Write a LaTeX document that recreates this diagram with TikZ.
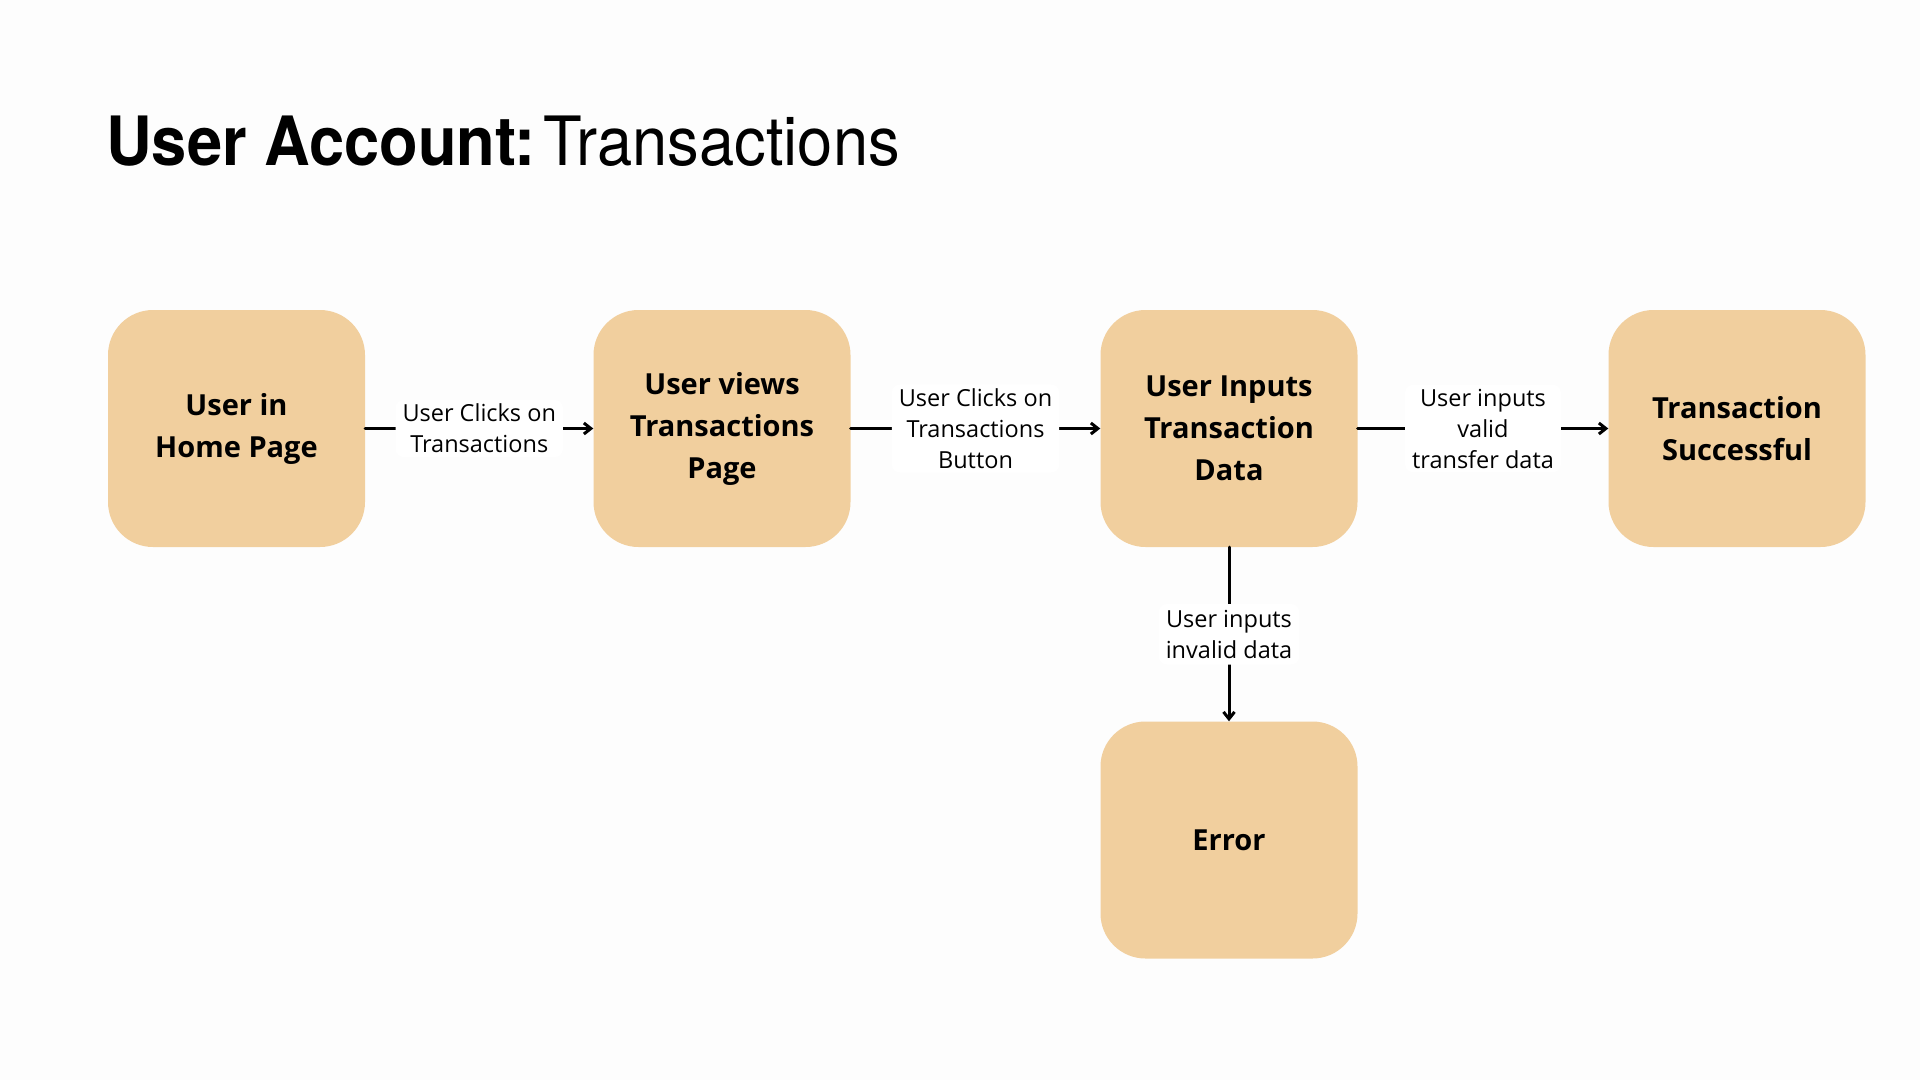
\documentclass[tikz,border=0pt]{standalone}
\usepackage{fontspec}
\setmainfont{Open Sans}
\newfontfamily\titlefont[FakeStretch=0.93]{TeX Gyre Heros}
\usetikzlibrary{arrows.meta}
\definecolor{boxtan}{HTML}{F1CF9E}
\definecolor{pagebg}{HTML}{FDFDFD}

\begin{document}
\begin{tikzpicture}[x=1pt, y=-1pt, line cap=round, line join=round, >={Straight Barb[length=7pt, width=11pt]}]
	\tikzset{
		buoc/.style={fill=boxtan, rounded corners=45pt, minimum width=257pt, minimum height=237pt, inner sep=0pt, align=center, font=\fontsize{29}{42}\selectfont\bfseries},
		nhan/.style={fill=white, rounded corners=8pt, inner xsep=7pt, inner ysep=4pt, align=center, font=\fontsize{23.5}{31}\selectfont},
		muiten/.style={->, line width=3pt}
	}
	% NỀN VÀ KHUNG
	\fill[pagebg] (0,0) rectangle (1920,1080);
	\useasboundingbox (0,0) rectangle (1920,1080);
	
	% TIÊU ĐỀ
	\node[anchor=base west, inner sep=0pt, font=\titlefont\fontsize{68}{80}\selectfont] (tieude) at (106,165) {\textbf{User Account:}\hspace{8pt}Transactions};
	
	% CÁC BƯỚC
	\node[buoc] (home) at (236.5,428.5) {User in\\Home Page};
	\node[buoc] (views) at (722,428.5) {User views\\Transactions\\Page};
	\node[buoc] (inputs) at (1229,428.5) {User Inputs\\Transaction\\Data};
	\node[buoc] (success) at (1737,428.5) {Transaction\\Successful};
	\node[buoc] (error) at (1229,840) {Error};
	
	% MŨI TÊN
	\draw[muiten] (home) -- (views) node[nhan, midway] {User Clicks on\\Transactions};
	\draw[muiten] (views) -- (inputs) node[nhan, midway] {User Clicks on\\Transactions\\Button};
	\draw[muiten] (inputs) -- (success) node[nhan, midway] {User inputs\\valid\\transfer data};
	\draw[muiten] (inputs) -- (error) node[nhan, midway, inner ysep=6pt] {User inputs\\invalid data};
\end{tikzpicture}
\end{document}
